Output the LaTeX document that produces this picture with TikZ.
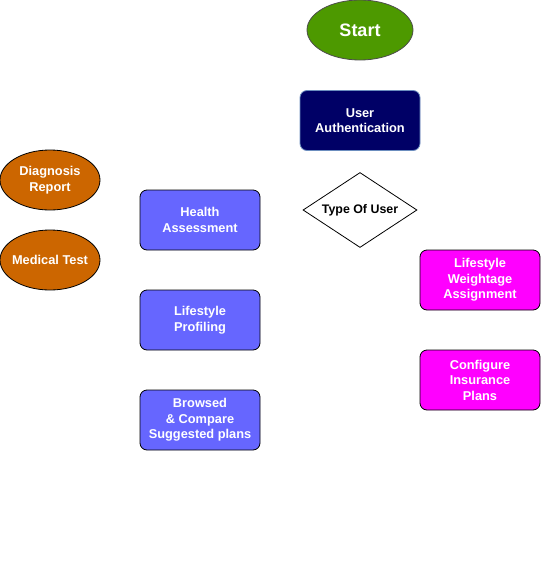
\documentclass[tikz,border=0pt]{standalone}
\usepackage{fontspec}
\setmainfont{Liberation Sans}
\usetikzlibrary{shapes.geometric}
\definecolor{startgreen}{HTML}{4D9900}
\definecolor{authblue}{HTML}{000066}
\definecolor{authborder}{HTML}{6C8EBF}
\definecolor{diagorange}{HTML}{CC6600}
\definecolor{userblue}{HTML}{6666FF}
\definecolor{adminpink}{HTML}{FF00FF}
\tikzset{
  base/.style={font=\bfseries\fontsize{12.8}{15.5}\selectfont, text=white, align=center, inner sep=0pt, line width=0.8pt},
  oval/.style={base, ellipse, draw=black, minimum width=100pt, minimum height=60pt, inner xsep=-14pt},
  rbox/.style={base, rectangle, rounded corners=7pt, draw=black, minimum width=120pt, minimum height=60pt},
  userbox/.style={rbox, fill=userblue},
  adminbox/.style={rbox, fill=adminpink},
}
\begin{document}
\begin{tikzpicture}[x=1pt,y=-1pt]
\useasboundingbox (0,0) rectangle (542,582);
\node[oval, fill=startgreen, minimum width=106pt, minimum height=60pt, draw=black!70, font=\bfseries\fontsize{18}{21}\selectfont] (start) at (360,30) {Start};
\node[rbox, fill=authblue, draw=authborder] (auth) at (360,120.5) {User\\Authentication};
\node[base, diamond, draw=black, fill=white, text=black, aspect=1.52, minimum width=114pt, minimum height=75pt, inner xsep=-10pt, font=\bfseries\fontsize{12.4}{15}\selectfont] (type) at (360,210) {Type Of User};
\node[oval, fill=diagorange] (diag) at (50,180) {Diagnosis\\Report};
\node[oval, fill=diagorange] (med) at (50,260) {Medical Test};
\node[userbox] (health) at (200,220) {Health\\Assessment};
\node[userbox] (life) at (200,320) {Lifestyle\\Profiling};
\node[userbox] (browse) at (200,420) {Browsed\\\& Compare\\Suggested plans};
\node[adminbox] (weight) at (480,280) {Lifestyle\\Weightage\\Assignment};
\node[adminbox] (config) at (480,380) {Configure\\Insurance\\Plans};
\end{tikzpicture}
\end{document}
